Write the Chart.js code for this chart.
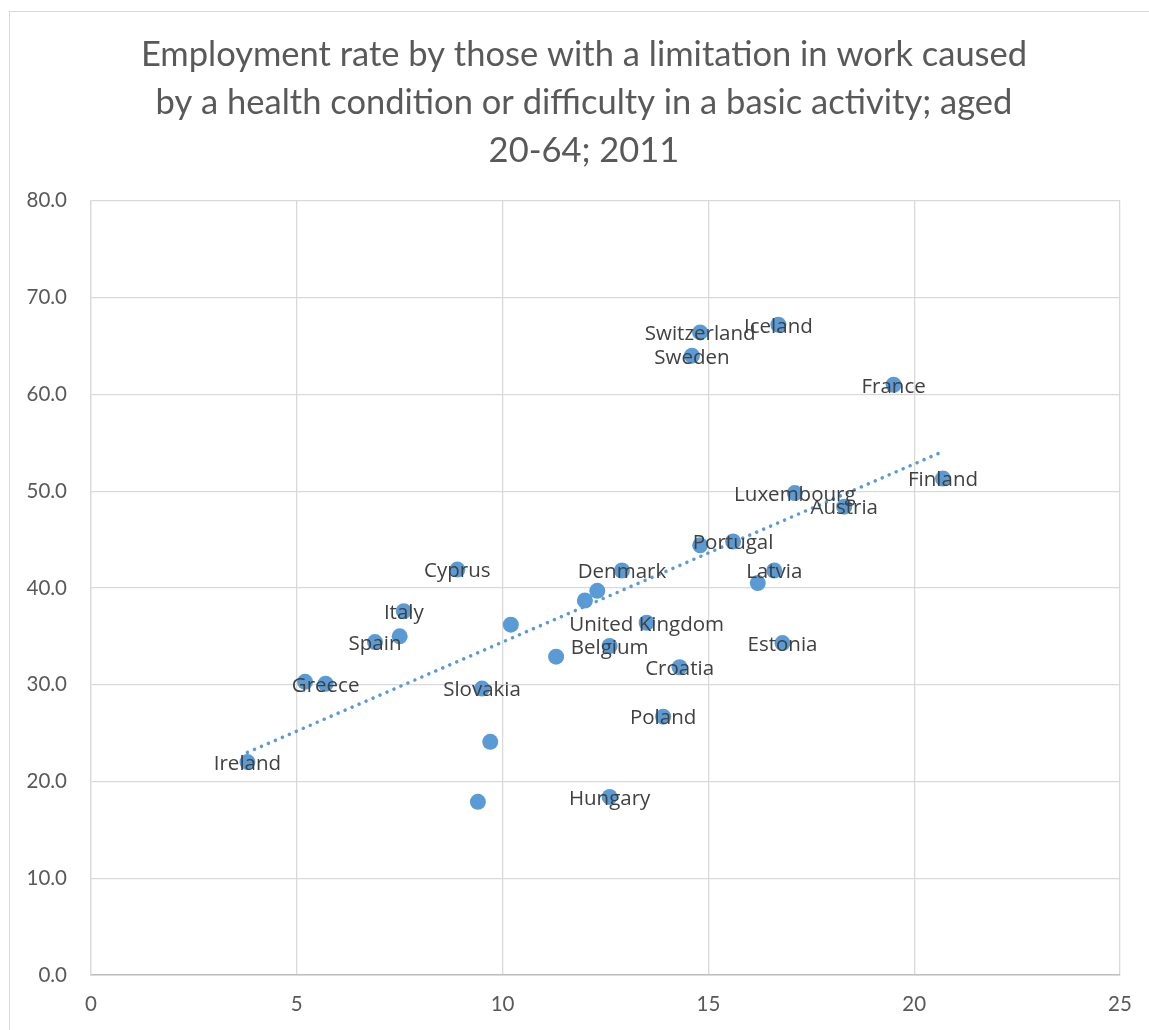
<!DOCTYPE html>
<html>
<head>
<meta charset="utf-8">
<script src="https://cdn.jsdelivr.net/npm/chart.js@4"></script>
<style>
    body { margin: 0; background: #ffffff; }
    #frame {
        position: absolute; left: 9px; top: 11px;
        width: 1200px; height: 1100px;
        border: 1px solid #d9d9d9;
    }
    #chart { position: absolute; left: 0; top: 0; }
</style>
</head>
<body>
<div id="frame"></div>
<canvas id="chart" width="1149" height="1030"></canvas>
<script>
// countries ("" = point without a label in the original)
const countries = [
    "Ireland", "", "Greece", "Spain", "Italy", "", "Cyprus", "Slovakia",
    "", "", "", "", "", "", "Denmark", "United Kingdom",
    "Belgium", "Croatia", "Poland", "Hungary", "Switzerland", "Sweden", "Iceland", "France",
    "Finland", "Luxembourg", "Austria", "", "Portugal", "Latvia", "", "Estonia"
];
const xValues = [
    3.8, 5.2, 5.7, 6.9, 7.6, 7.5, 8.9, 9.5,
    9.7, 9.4, 10.2, 11.3, 12.0, 12.3, 12.9, 13.5,
    12.6, 14.3, 13.9, 12.6, 14.8, 14.6, 16.7, 19.5,
    20.7, 17.1, 18.3, 14.8, 15.6, 16.6, 16.2, 16.8
];
const yValues = [
    22.0, 30.3, 30.1, 34.4, 37.6, 35.0, 41.9, 29.6,
    24.1, 17.9, 36.2, 32.9, 38.7, 39.7, 41.8, 36.4,
    34.0, 31.8, 26.7, 18.4, 66.4, 64.0, 67.2, 61.0,
    51.3, 49.8, 48.4, 44.4, 44.8, 41.8, 40.5, 34.3
];
// linear trendline ends
const trendX = [3.8, 20.7];
const trendY = [23.0, 54.1];

const titleLines = [
    "Employment rate by those with a limitation in work caused",
    "by a health condition or difficulty in a basic activity; aged",
    "20-64; 2011"
];

const points = xValues.map((x, i) => ({ x: x, y: yValues[i] }));
const trend = trendX.map((x, i) => ({ x: x, y: trendY[i] }));

const pointLabels = {
    id: 'pointLabels',
    afterLayout(chart) {
        // centre the title on the whole frame, not just up to the plot's right edge
        chart.titleBlock.left += 48;
    },
    afterDatasetsDraw(chart) {
        const ctx = chart.ctx;
        const xs = chart.scales.x;
        const ys = chart.scales.y;
        ctx.save();
        ctx.font = '20.5px "Open Sans"';
        ctx.fillStyle = '#404040';
        ctx.textAlign = 'center';
        ctx.textBaseline = 'middle';
        countries.forEach((name, i) => {
            if (!name) return;
            ctx.fillText(name, xs.getPixelForValue(xValues[i]), ys.getPixelForValue(yValues[i]) + 2);
        });
        ctx.restore();
    }
};

const ctx = document.getElementById('chart').getContext('2d');

new Chart(ctx, {
    type: 'scatter',
    data: {
        datasets: [{
            label: 'Employment rate',
            data: points,
            backgroundColor: '#5b9bd5',
            borderWidth: 0,
            pointRadius: 8,
            order: 1
        }, {
            type: 'line',
            label: 'Trend',
            data: trend,
            borderColor: '#5b9bd5',
            borderWidth: 3.5,
            borderDash: [0.1, 7.5],
            borderCapStyle: 'round',
            pointRadius: 0,
            fill: false,
            order: 0
        }]
    },
    options: {
        responsive: false,
        animation: false,
        layout: { padding: { left: 0, right: 29, top: 0, bottom: 0 } },
        plugins: {
            legend: { display: false },
            tooltip: { enabled: false },
            title: {
                display: true,
                text: titleLines,
                color: '#595959',
                font: { family: 'Lato', size: 34.5, weight: 'normal', lineHeight: 1.39 },
                padding: { top: 31, bottom: 26 }
            }
        },
        scales: {
            x: {
                type: 'linear',
                min: 0,
                max: 25,
                afterFit: (scale) => { scale.height = 55; },
                ticks: {
                    stepSize: 5,
                    color: '#595959',
                    font: { family: 'Lato', size: 20.5 },
                    padding: 17,
                    maxRotation: 0
                },
                grid: { color: '#d9d9d9', lineWidth: 1.3, drawTicks: false },
                border: { color: '#bfbfbf', width: 1.5 }
            },
            y: {
                min: 0,
                max: 80,
                afterFit: (scale) => { scale.width = 91; },
                ticks: {
                    stepSize: 10,
                    color: '#595959',
                    font: { family: 'Lato', size: 20.5 },
                    padding: 24,
                    callback: (v) => v.toFixed(1)
                },
                grid: { color: '#d9d9d9', lineWidth: 1.3, drawTicks: false },
                border: { color: '#d9d9d9', width: 1.3 }
            }
        }
    },
    plugins: [pointLabels]
});
</script>
</body>
</html>
